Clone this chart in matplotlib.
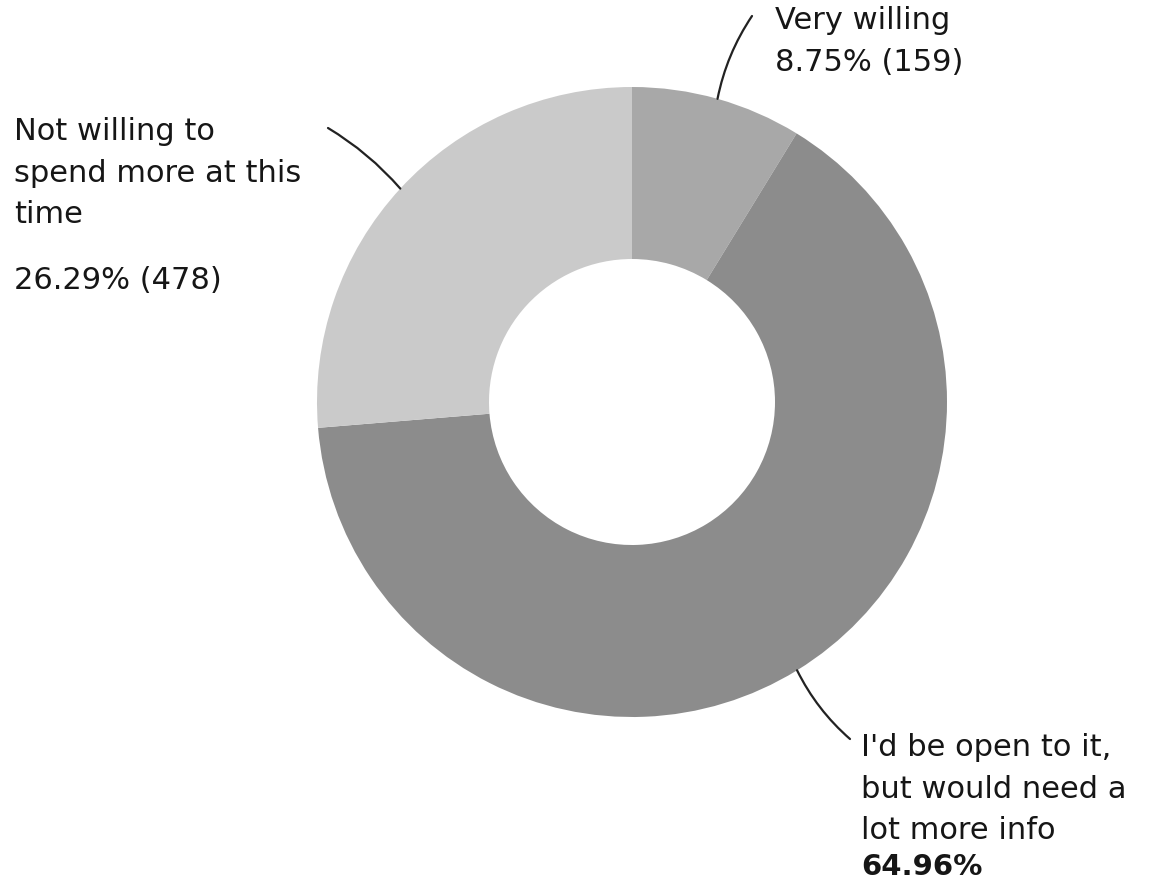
import numpy as np
import matplotlib.pyplot as plt

labels = ['Very willing', "I'd be open to it,\nbut would need a\nlot more info", 'Not willing to\nspend more at this\ntime']
pcts = [8.75, 64.96, 26.29]
counts = [159, 1180, 478]
colors = ['#a8a8a8', '#8c8c8c', '#cacaca']

W, H = 1153, 879
fig = plt.figure(figsize=(W / 100, H / 100), dpi=100)
ax = fig.add_axes([0, 0, 1, 1])

cx, cy, R = 632, H - 403, 315
wedges, _ = ax.pie(counts, colors=colors, startangle=90, counterclock=False,
                   center=(cx, cy), radius=R, frame=True,
                   wedgeprops=dict(width=R - 143, linewidth=0))
ax.set_xlim(0, W)
ax.set_ylim(0, H)
ax.set_aspect('equal')
ax.axis('off')

def edge(w):
    a = np.deg2rad((w.theta1 + w.theta2) / 2)
    return cx + R * np.cos(a), cy + R * np.sin(a)

fs = 22
tc = '#161616'
ls = 1.55
lk = dict(arrowstyle='-', color='#222222', lw=1.6, shrinkA=0, shrinkB=0)

# Very willing
ax.annotate('', xy=edge(wedges[0]), xytext=(752, H - 17),
            arrowprops=dict(connectionstyle='arc3,rad=0.1', **lk))
ax.text(775, H - 6, labels[0] + '\n%.2f%% (%d)' % (pcts[0], counts[0]),
        fontsize=fs, color=tc, va='top', ha='left', linespacing=ls)

# Not willing
ax.annotate('', xy=edge(wedges[2]), xytext=(328, H - 129),
            arrowprops=dict(connectionstyle='arc3,rad=-0.08', **lk))
ax.text(14, H - 117, labels[2], fontsize=fs, color=tc, va='top', ha='left',
        linespacing=ls)
ax.text(14, H - 266, '%.2f%% (%d)' % (pcts[2], counts[2]), fontsize=fs,
        color=tc, va='top', ha='left')

# Open to it
ax.annotate('', xy=edge(wedges[1]), xytext=(850, H - 740),
            arrowprops=dict(connectionstyle='arc3,rad=-0.1', **lk))
ax.text(861, H - 733, labels[1], fontsize=fs, color=tc, va='top', ha='left',
        linespacing=ls)
ax.text(861, H - 853, '%.2f%%' % pcts[1], fontsize=fs - 1, color=tc,
        va='top', ha='left', fontweight='bold')

fig.savefig('out.png', dpi=100)
